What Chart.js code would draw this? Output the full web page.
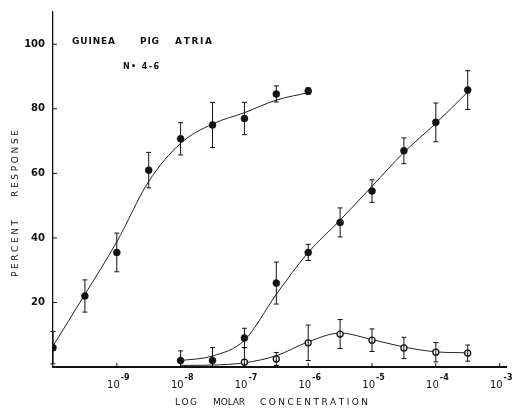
<!DOCTYPE html>
<html>
<head>
<meta charset="utf-8">
<script src="https://cdn.jsdelivr.net/npm/chart.js@4.4.1/dist/chart.umd.min.js"></script>
<style>
  html, body { margin: 0; padding: 0; background: #fff; }
  #wrap { width: 512px; height: 409px; position: relative; }
</style>
</head>
<body>
<div id="wrap"><canvas id="c" width="512" height="409"></canvas></div>
<script>
// log10 molar concentration for each measured point
const xA = [-10, -9.5, -9, -8.5, -8, -7.5, -7, -6.5, -6];
const yA = [6, 22, 35.5, 61, 70.7, 75, 77, 84.6, 85.5];
const eA = [5, 5, 6, 5.5, 5, 7, 5, 2.5, 1];

const xB = [-8, -7.5, -7, -6.5, -6, -5.5, -5, -4.5, -4, -3.5];
const yB = [2, 2, 9, 26, 35.5, 44.8, 54.5, 67, 75.8, 85.8];
const eB = [3, 4, 3, 6.5, 2.5, 4.5, 3.5, 4, 6, 6];

const xC = [-7, -6.5, -6, -5.5, -5, -4.5, -4, -3.5];
const yC = [1.5, 2.5, 7.5, 10.2, 8.3, 5.9, 4.6, 4.3];
const eC = [4.5, 2, 5.5, 4.5, 3.5, 3.3, 3, 2.5];

// fitted curves
const fitAx = [-10, -9.5, -9, -8.5, -8, -7.5, -7, -6.5, -6];
const fitAy = [6.5, 22.5, 38.8, 57.5, 69.3, 75.3, 78.8, 82.7, 85];
const fitBx = [-8, -7.5, -7, -6.5, -6, -5.5, -5, -4.5, -4, -3.5];
const fitBy = [2, 3.4, 8.3, 22.5, 35.5, 45.5, 56, 66.5, 75.5, 85.2];
const fitCx = [-8, -7.5, -7, -6.5, -6, -5.5, -5, -4.5, -4, -3.5];
const fitCy = [0.5, 0.6, 1.3, 3.5, 7.8, 10.5, 8.5, 6.2, 4.7, 4.4];

const xTickVals = [-9, -8, -7, -6, -5, -4, -3];
const xTickExp = ['-9', '-8', '-7', '-6', '-5', '-4', '-3'];
const yTickVals = [20, 40, 60, 80, 100];

const pts = (xs, ys) => xs.map((x, i) => ({ x: x, y: ys[i] }));

const errorBars = {
  id: 'errorBars',
  afterDatasetsDraw(chart) {
    const ctx = chart.ctx;
    const xs = chart.scales.x, ys = chart.scales.y;
    ctx.save();
    ctx.strokeStyle = '#111';
    ctx.lineWidth = 1;
    chart.data.datasets.forEach(ds => {
      if (!ds.errors) return;
      ds.data.forEach((p, i) => {
        const e = ds.errors[i];
        const px = xs.getPixelForValue(p.x);
        const top = ys.getPixelForValue(p.y + e);
        const bot = ys.getPixelForValue(Math.max(0, p.y - e));
        ctx.beginPath();
        ctx.moveTo(px, top); ctx.lineTo(px, bot);
        ctx.moveTo(px - 2.5, top); ctx.lineTo(px + 2.5, top);
        ctx.moveTo(px - 2.5, bot); ctx.lineTo(px + 2.5, bot);
        ctx.stroke();
      });
    });
    ctx.restore();
  }
};

const decor = {
  id: 'decor',
  afterDraw(chart) {
    const ctx = chart.ctx;
    const xs = chart.scales.x, ys = chart.scales.y;
    const a = chart.chartArea;
    ctx.save();
    ctx.strokeStyle = '#111';
    ctx.fillStyle = '#111';
    ctx.lineWidth = 1;
    // y ticks + labels
    ctx.font = 'bold 10px "DejaVu Sans"';
    ctx.textAlign = 'right';
    ctx.textBaseline = 'middle';
    yTickVals.forEach(v => {
      const py = ys.getPixelForValue(v);
      ctx.beginPath(); ctx.moveTo(a.left, py); ctx.lineTo(a.left + 4, py); ctx.stroke();
      ctx.fillText(String(v), a.left - 8, py);
    });
    // x ticks + labels
    xTickVals.forEach((v, i) => {
      const px = xs.getPixelForValue(v);
      ctx.beginPath(); ctx.moveTo(px, a.bottom); ctx.lineTo(px, a.bottom - 4); ctx.stroke();
      ctx.font = '10px "DejaVu Sans"';
      ctx.textAlign = 'right';
      ctx.textBaseline = 'middle';
      ctx.fillText('10', px + 3, a.bottom + 18);
      ctx.font = 'bold 8px "DejaVu Sans"';
      ctx.textAlign = 'left';
      ctx.fillText(xTickExp[i], px + 4, a.bottom + 11);
    });
    // letter-spaced text fitted into a given span
    ctx.textAlign = 'left';
    ctx.textBaseline = 'middle';
    const fit = (t, x, y, w) => {
      const chars = [...t];
      const raw = chars.reduce((s, ch) => s + ctx.measureText(ch).width, 0);
      const sp = chars.length > 1 ? (w - raw) / (chars.length - 1) : 0;
      let cx = x;
      for (const ch of chars) { ctx.fillText(ch, cx, y); cx += ctx.measureText(ch).width + sp; }
    };
    ctx.font = 'bold 9px "DejaVu Sans"';
    fit('GUINEA', 72, 42, 43);
    fit('PIG', 140, 42, 19);
    fit('ATRIA', 175, 42, 37);
    ctx.font = 'bold 8px "DejaVu Sans"';
    fit('N• 4-6', 123, 67, 36);
    ctx.font = '9px "DejaVu Sans"';
    fit('LOG', 175, 403, 22);
    fit('MOLAR', 213, 403, 32);
    fit('CONCENTRATION', 260, 403, 108);
    ctx.save();
    ctx.translate(16, 0);
    ctx.rotate(-Math.PI / 2);
    fit('PERCENT', -277, 0, 57);
    fit('RESPONSE', -197, 0, 67);
    ctx.restore();
    ctx.restore();
  }
};

const lineDs = (xs, ys) => ({
  data: pts(xs, ys), showLine: true, pointRadius: 0, borderColor: '#222',
  borderWidth: 1, cubicInterpolationMode: 'monotone', fill: false, order: 5
});

new Chart(document.getElementById('c'), {
  type: 'scatter',
  data: {
    datasets: [
      lineDs(fitAx, fitAy),
      lineDs(fitBx, fitBy),
      lineDs(fitCx, fitCy),
      { data: pts(xA, yA), errors: eA, pointRadius: 3.5, backgroundColor: '#111', borderColor: '#111', borderWidth: 0.5, order: 1 },
      { data: pts(xB, yB), errors: eB, pointRadius: 3.5, backgroundColor: '#111', borderColor: '#111', borderWidth: 0.5, order: 1 },
      { data: pts(xC, yC), errors: eC, pointRadius: 3, backgroundColor: '#fff', borderColor: '#111', borderWidth: 1.3, order: 1 }
    ]
  },
  options: {
    responsive: false,
    animation: false,
    devicePixelRatio: 1,
    layout: { padding: { left: 53, right: 6, top: 12, bottom: 42 } },
    plugins: { legend: { display: false }, tooltip: { enabled: false } },
    scales: {
      x: {
        type: 'linear', min: -10, max: -2.9,
        grid: { display: false, drawTicks: false },
        ticks: { display: false },
        border: { display: true, color: '#111', width: 2 }
      },
      y: {
        type: 'linear', min: 0, max: 110,
        grid: { display: false, drawTicks: false },
        ticks: { display: false },
        border: { display: true, color: '#111', width: 1.3 }
      }
    }
  },
  plugins: [errorBars, decor]
});
</script>
</body>
</html>
